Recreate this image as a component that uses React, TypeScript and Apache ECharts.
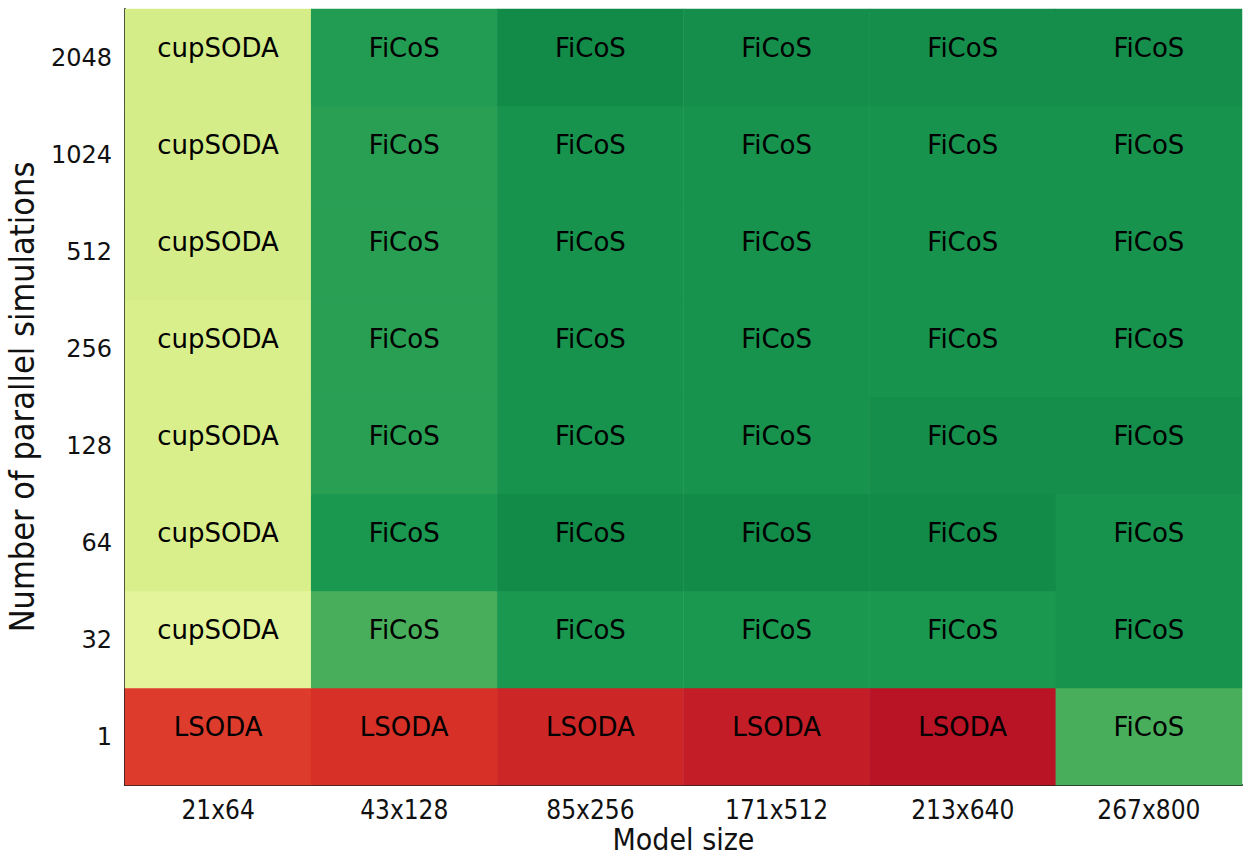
import React, { useEffect, useRef } from "react";
import * as echarts from "echarts";

const modelSizes = ["21x64", "43x128", "85x256", "171x512", "213x640", "267x800"];
const parallelSims = ["1", "32", "64", "128", "256", "512", "1024", "2048"];

// colour score per cell (0 = red, 0.5 = yellow, 1 = green), rows bottom -> top
const scoreRow1 = [0.12, 0.10, 0.08, 0.06, 0.04, 0.84];
const scoreRow32 = [0.57, 0.84, 0.90, 0.90, 0.90, 0.91];
const scoreRow64 = [0.60, 0.90, 0.93, 0.93, 0.93, 0.91];
const scoreRow128 = [0.60, 0.88, 0.91, 0.91, 0.92, 0.92];
const scoreRow256 = [0.60, 0.88, 0.91, 0.91, 0.91, 0.91];
const scoreRow512 = [0.61, 0.88, 0.91, 0.91, 0.91, 0.91];
const scoreRow1024 = [0.61, 0.88, 0.91, 0.91, 0.91, 0.91];
const scoreRow2048 = [0.61, 0.89, 0.93, 0.92, 0.92, 0.92];

// fastest simulator per cell, rows bottom -> top
const winRow1 = ["LSODA", "LSODA", "LSODA", "LSODA", "LSODA", "FiCoS"];
const winRowOther = ["cupSODA", "FiCoS", "FiCoS", "FiCoS", "FiCoS", "FiCoS"];

const scores = [scoreRow1, scoreRow32, scoreRow64, scoreRow128, scoreRow256, scoreRow512, scoreRow1024, scoreRow2048];
const winners = [winRow1, winRowOther, winRowOther, winRowOther, winRowOther, winRowOther, winRowOther, winRowOther];

const rdYlGn = ["#a50026", "#d73027", "#f46d43", "#fdae61", "#fee08b", "#ffffbf", "#d9ef8b", "#a6d96a", "#66bd63", "#1a9850", "#006837"];

export default function App() {
  const ref = useRef<HTMLDivElement>(null);
  useEffect(() => {
    document.body.style.margin = "0";
    const chart = echarts.init(ref.current!, null, { renderer: "svg" });
    const data: any[] = [];
    scores.forEach((row, yi) => row.forEach((v, xi) => data.push([xi, yi, v])));
    chart.setOption({
      animation: false,
      backgroundColor: "#ffffff",
      grid: { left: 125, right: 2, top: 9, bottom: 72, containLabel: false, outerBoundsMode: "none" },
      visualMap: { show: false, min: 0, max: 1, inRange: { color: rdYlGn } },
      xAxis: {
        type: "category",
        data: modelSizes,
        axisLine: { show: true, lineStyle: { color: "#222", width: 2 } },
        axisTick: { show: false },
        splitLine: { show: false },
        axisLabel: { color: "#111", fontFamily: "DejaVu Sans Condensed", fontSize: 26, margin: 12 },
        name: "Model size",
        nameLocation: "middle",
        nameMoveOverlap: false,
        nameGap: 39,
        nameTextStyle: { color: "#111", fontFamily: "DejaVu Sans Condensed", fontSize: 30, lineHeight: 30 },
      },
      yAxis: {
        type: "category",
        data: parallelSims,
        axisLine: { show: true, lineStyle: { color: "#222", width: 2 } },
        axisTick: { show: false },
        splitLine: { show: false },
        axisLabel: { color: "#111", fontFamily: "DejaVu Sans", fontSize: 24, margin: 13 },
        name: "Number of parallel simulations",
        nameLocation: "middle",
        nameMoveOverlap: false,
        nameGap: 86,
        nameTextStyle: { color: "#111", fontFamily: "DejaVu Sans Condensed", fontSize: 34 },
      },
      series: [
        {
          type: "heatmap",
          data,
          label: {
            show: true,
            offset: [0, -10],
            color: "#000",
            fontFamily: "DejaVu Sans",
            fontSize: 26,
            formatter: (p: any) => winners[p.data[1]][p.data[0]],
          },
          itemStyle: { borderWidth: 0 },
          emphasis: { disabled: true },
        },
      ],
    });
    return () => chart.dispose();
  }, []);
  return <div ref={ref} style={{ width: 1244, height: 857 }} />;
}
